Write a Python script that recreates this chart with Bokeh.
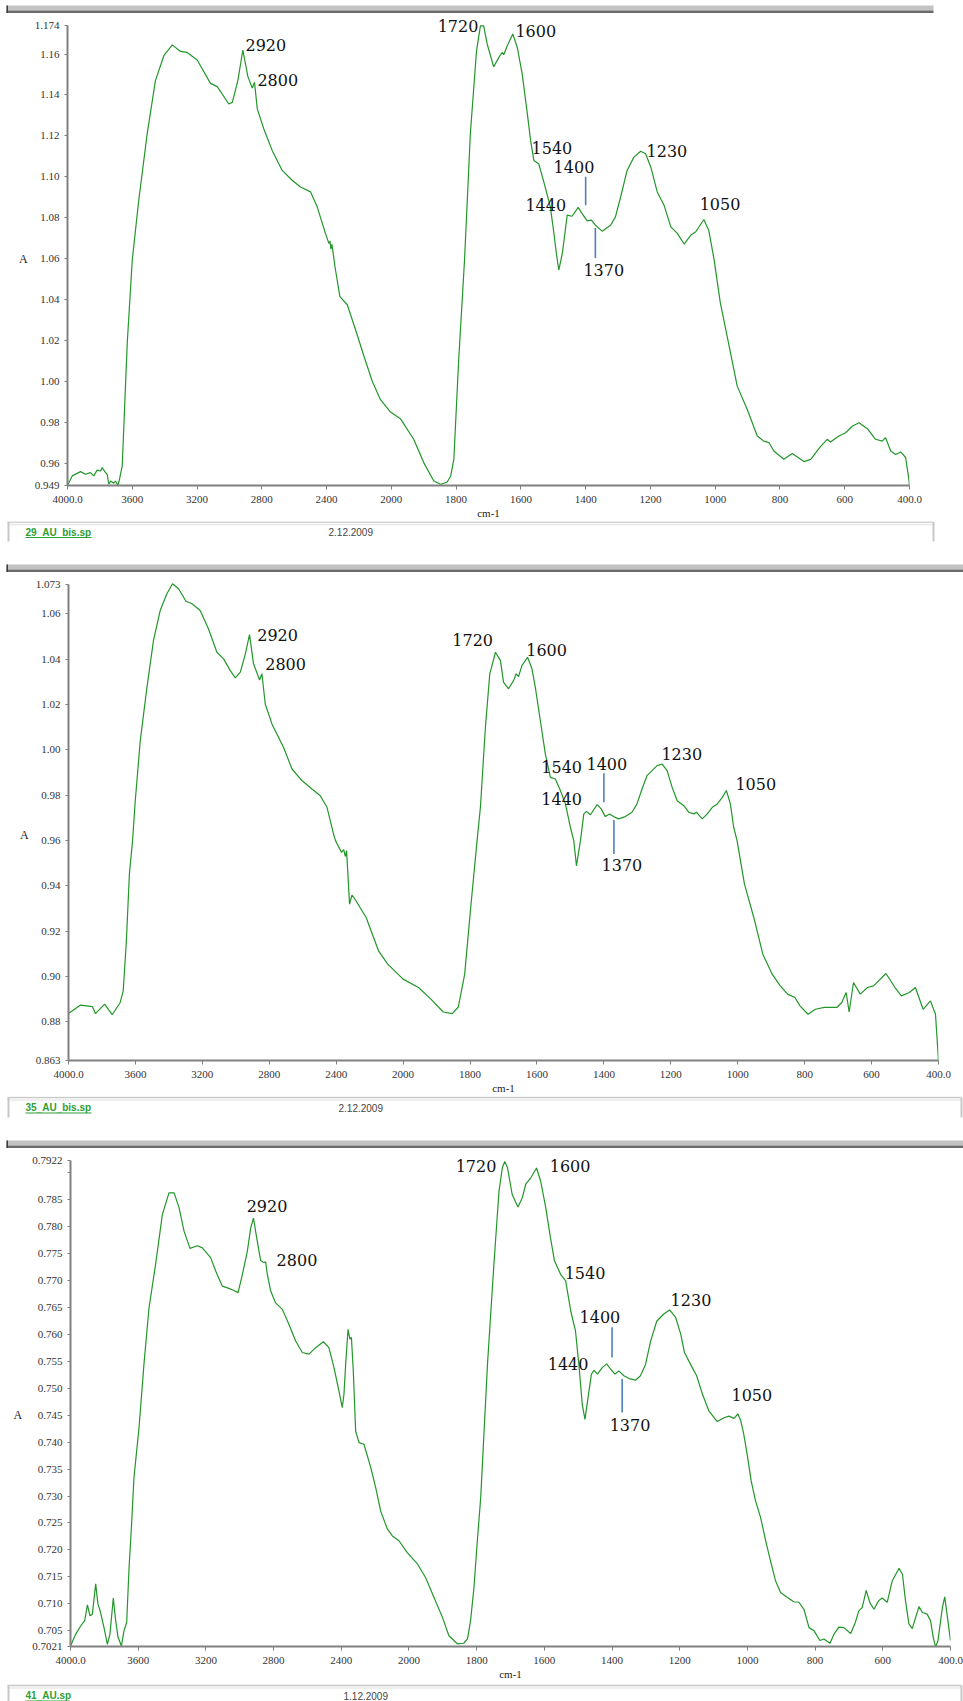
import numpy as np
from bokeh.plotting import figure
from bokeh.layouts import column
from bokeh.models import Range1d, FixedTicker, Label
from bokeh.core.properties import value
from bokeh.embed import file_html
from bokeh.resources import INLINE

# ---------------- spectra: wavenumber (cm-1) / absorbance ----------------
wn_29 = [4000, 3971, 3920, 3889, 3858, 3838, 3817, 3796, 3786, 3765, 3755, 3745, 3734, 3714,
         3704, 3689, 3679, 3662, 3631, 3600, 3560, 3508, 3457, 3405, 3353, 3302, 3261, 3199,
         3117, 3075, 3004, 2982, 2948, 2917, 2886, 2859, 2845, 2828, 2788, 2736, 2674, 2613,
         2561, 2499, 2458, 2407, 2386, 2379, 2373, 2367, 2355, 2348, 2318, 2272, 2221, 2169,
         2118, 2067, 2005, 1972, 1931, 1900, 1869, 1848, 1828, 1817, 1807, 1792, 1774, 1756,
         1737, 1725, 1715, 1704, 1684, 1668, 1658, 1653, 1642, 1625, 1611, 1596, 1580, 1570,
         1560, 1545, 1529, 1509, 1498, 1490, 1483, 1472, 1457, 1442, 1423, 1411, 1395, 1382,
         1370, 1349, 1323, 1308, 1292, 1272, 1251, 1230, 1215, 1199, 1179, 1158, 1137, 1117,
         1096, 1075, 1060, 1035, 1020, 1004, 984, 963, 932, 901, 870, 850, 834, 819, 788, 762,
         726, 705, 675, 654, 644, 618, 597, 577, 556, 530, 505, 484, 474, 458, 443, 427, 412,
         402, 400]
ab_29 = [0.9490, 0.9537, 0.9558, 0.9545, 0.9553, 0.9537, 0.9565, 0.9561, 0.9578, 0.9553,
         0.9545, 0.9496, 0.9512, 0.9501, 0.9512, 0.9490, 0.9520, 0.9586, 1.0187, 1.0593,
         1.0885, 1.1210, 1.1470, 1.1592, 1.1645, 1.1613, 1.1608, 1.1571, 1.1457, 1.1441,
         1.1356, 1.1364, 1.1470, 1.1620, 1.1490, 1.1434, 1.1462, 1.1332, 1.1235, 1.1129,
         1.1031, 1.0983, 1.0950, 1.0926, 1.0853, 1.0723, 1.0674, 1.0685, 1.0646, 1.0670,
         1.0601, 1.0560, 1.0414, 1.0374, 1.0252, 1.0122, 1.0000, 0.9910, 0.9849, 0.9817,
         0.9716, 0.9602, 0.9512, 0.9496, 0.9506, 0.9535, 0.9618, 1.0106, 1.0593, 1.1212,
         1.1616, 1.1738, 1.1738, 1.1649, 1.1538, 1.1584, 1.1608, 1.1597, 1.1641, 1.1698,
         1.1632, 1.1503, 1.1308, 1.1178, 1.1080, 1.1064, 1.0974, 1.0853, 1.0723, 1.0620,
         1.0544, 1.0625, 1.0812, 1.0807, 1.0850, 1.0820, 1.0784, 1.0788, 1.0763, 1.0734,
         1.0763, 1.0804, 1.0901, 1.1031, 1.1096, 1.1125, 1.1113, 1.1048, 1.0926, 1.0861,
         1.0755, 1.0723, 1.0671, 1.0715, 1.0731, 1.0791, 1.0739, 1.0601, 1.0382, 1.0219,
         0.9976, 0.9862, 0.9732, 0.9707, 0.9700, 0.9659, 0.9618, 0.9647, 0.9607, 0.9618,
         0.9680, 0.9716, 0.9703, 0.9732, 0.9748, 0.9780, 0.9797, 0.9768, 0.9716, 0.9707,
         0.9724, 0.9659, 0.9642, 0.9654, 0.9627, 0.9520, 0.9490]

wn_35 = [4000, 3930, 3857, 3839, 3784, 3739, 3691, 3673, 3654, 3636, 3617, 3601, 3571, 3531,
         3492, 3452, 3412, 3378, 3342, 3298, 3262, 3213, 3163, 3113, 3073, 3033, 3003, 2973,
         2943, 2918, 2894, 2858, 2844, 2824, 2784, 2715, 2664, 2605, 2545, 2495, 2455, 2416,
         2404, 2368, 2355, 2345, 2338, 2320, 2306, 2294, 2221, 2147, 2092, 2000, 1954, 1917,
         1880, 1853, 1835, 1816, 1798, 1779, 1769, 1754, 1741, 1724, 1709, 1700, 1685, 1670,
         1662, 1655, 1645, 1628, 1615, 1605, 1590, 1575, 1560, 1545, 1530, 1515, 1500, 1490,
         1482, 1470, 1460, 1452, 1440, 1431, 1420, 1408, 1396, 1383, 1371, 1356, 1336, 1316,
         1301, 1286, 1271, 1256, 1241, 1226, 1211, 1196, 1181, 1161, 1146, 1131, 1123, 1106,
         1091, 1076, 1061, 1046, 1034, 1022, 1012, 1002, 980, 952, 925, 897, 873, 851, 829,
         814, 790, 768, 741, 704, 689, 676, 667, 654, 634, 612, 594, 557, 530, 511, 487, 469,
         446, 424, 409, 400]
ab_35 = [0.8837, 0.8874, 0.8868, 0.8837, 0.8879, 0.8832, 0.8886, 0.8937, 0.9158, 0.9453,
         0.9600, 0.9776, 1.0041, 1.0277, 1.0483, 1.0615, 1.0689, 1.0733, 1.0711, 1.0656,
         1.0645, 1.0615, 1.0534, 1.0431, 1.0402, 1.0350, 1.0318, 1.0343, 1.0424, 1.0509,
         1.0380, 1.0309, 1.0336, 1.0203, 1.0115, 1.0012, 0.9916, 0.9865, 0.9828, 0.9798,
         0.9747, 0.9630, 0.9600, 0.9548, 0.9560, 0.9530, 0.9556, 0.9320, 0.9360, 0.9349,
         0.9261, 0.9114, 0.9055, 0.8989, 0.8952, 0.8901, 0.8844, 0.8837, 0.8866, 0.9011,
         0.9305, 0.9600, 0.9747, 1.0100, 1.0336, 1.0431, 1.0394, 1.0299, 1.0270, 1.0306,
         1.0336, 1.0324, 1.0372, 1.0409, 1.0358, 1.0277, 1.0130, 0.9983, 0.9879, 0.9872,
         0.9821, 0.9762, 0.9658, 0.9600, 0.9489, 0.9600, 0.9718, 0.9729, 0.9714, 0.9735,
         0.9759, 0.9740, 0.9706, 0.9718, 0.9706, 0.9696, 0.9706, 0.9725, 0.9762, 0.9828,
         0.9887, 0.9909, 0.9931, 0.9938, 0.9909, 0.9835, 0.9776, 0.9754, 0.9725, 0.9718,
         0.9725, 0.9696, 0.9718, 0.9747, 0.9762, 0.9791, 0.9821, 0.9762, 0.9658, 0.9600,
         0.9409, 0.9261, 0.9099, 0.9011, 0.8959, 0.8923, 0.8908, 0.8871, 0.8834, 0.8856,
         0.8864, 0.8864, 0.8886, 0.8930, 0.8844, 0.8974, 0.8923, 0.8952, 0.8959, 0.9014,
         0.8952, 0.8915, 0.8930, 0.8952, 0.8856, 0.8893, 0.8834, 0.8630]

wn_41 = [4000, 3969, 3940, 3916, 3900, 3885, 3871, 3851, 3838, 3822, 3802, 3782, 3767, 3747,
         3733, 3719, 3699, 3684, 3668, 3654, 3640, 3625, 3595, 3566, 3536, 3497, 3457, 3418,
         3388, 3359, 3329, 3294, 3250, 3221, 3172, 3142, 3103, 3064, 3034, 3010, 2984, 2955,
         2935, 2919, 2900, 2876, 2857, 2847, 2837, 2817, 2788, 2748, 2709, 2669, 2630, 2591,
         2551, 2506, 2473, 2443, 2414, 2394, 2384, 2374, 2360, 2349, 2340, 2329, 2315, 2295,
         2266, 2226, 2197, 2167, 2128, 2098, 2059, 2010, 1975, 1951, 1926, 1901, 1882, 1857,
         1838, 1827, 1818, 1808, 1798, 1788, 1768, 1749, 1734, 1724, 1717, 1709, 1695, 1678,
         1665, 1655, 1640, 1623, 1611, 1596, 1582, 1570, 1552, 1537, 1522, 1508, 1498, 1488,
         1480, 1471, 1461, 1453, 1443, 1429, 1416, 1404, 1391, 1380, 1365, 1347, 1330, 1316,
         1301, 1286, 1268, 1248, 1230, 1212, 1197, 1186, 1168, 1150, 1133, 1114, 1089, 1069,
         1055, 1040, 1028, 1020, 1011, 1001, 989, 976, 961, 946, 932, 917, 902, 882, 863, 848,
         833, 818, 803, 786, 774, 756, 744, 730, 715, 695, 681, 671, 661, 649, 638, 626, 612,
         602, 587, 572, 552, 542, 533, 523, 513, 503, 493, 483, 469, 459, 451, 444, 437, 424,
         417, 409, 400]
ab_41 = [0.7022, 0.7044, 0.7059, 0.7069, 0.7098, 0.7078, 0.7081, 0.7137, 0.7100, 0.7084,
         0.7056, 0.7025, 0.7044, 0.7111, 0.7069, 0.7038, 0.7022, 0.7050, 0.7066, 0.7167,
         0.7242, 0.7334, 0.7427, 0.7544, 0.7649, 0.7730, 0.7822, 0.7862, 0.7862, 0.7835,
         0.7791, 0.7759, 0.7764, 0.7760, 0.7742, 0.7717, 0.7689, 0.7685, 0.7681, 0.7677,
         0.7711, 0.7754, 0.7797, 0.7815, 0.7779, 0.7736, 0.7733, 0.7734, 0.7711, 0.7680,
         0.7658, 0.7646, 0.7618, 0.7587, 0.7566, 0.7563, 0.7575, 0.7586, 0.7575, 0.7538,
         0.7495, 0.7464, 0.7489, 0.7544, 0.7609, 0.7591, 0.7594, 0.7532, 0.7420, 0.7399,
         0.7396, 0.7353, 0.7316, 0.7272, 0.7239, 0.7226, 0.7217, 0.7195, 0.7174, 0.7149,
         0.7112, 0.7075, 0.7041, 0.7026, 0.7027, 0.7035, 0.7069, 0.7130, 0.7217, 0.7297,
         0.7544, 0.7730, 0.7865, 0.7909, 0.7920, 0.7909, 0.7859, 0.7836, 0.7853, 0.7878,
         0.7890, 0.7908, 0.7884, 0.7835, 0.7779, 0.7736, 0.7711, 0.7699, 0.7643, 0.7606,
         0.7544, 0.7470, 0.7442, 0.7482, 0.7526, 0.7533, 0.7526, 0.7538, 0.7545, 0.7535,
         0.7526, 0.7532, 0.7523, 0.7517, 0.7515, 0.7523, 0.7544, 0.7587, 0.7624, 0.7637,
         0.7645, 0.7631, 0.7600, 0.7566, 0.7544, 0.7523, 0.7489, 0.7458, 0.7438, 0.7445,
         0.7448, 0.7444, 0.7452, 0.7440, 0.7415, 0.7378, 0.7328, 0.7291, 0.7260, 0.7217,
         0.7180, 0.7143, 0.7121, 0.7112, 0.7104, 0.7103, 0.7090, 0.7056, 0.7050, 0.7032,
         0.7035, 0.7027, 0.7044, 0.7057, 0.7056, 0.7045, 0.7066, 0.7087, 0.7093, 0.7125,
         0.7102, 0.7090, 0.7106, 0.7111, 0.7103, 0.7143, 0.7166, 0.7155, 0.7106, 0.7063,
         0.7054, 0.7075, 0.7095, 0.7084, 0.7081, 0.7069, 0.7038, 0.7020, 0.7032, 0.7093,
         0.7113, 0.7075, 0.7032]

# ---------------- axis ticks ----------------
X_TICKS = [4000, 3600, 3200, 2800, 2400, 2000, 1800, 1600, 1400, 1200, 1000, 800, 600, 400]
X_TICK_LABELS = ["4000.0", "3600", "3200", "2800", "2400", "2000", "1800", "1600",
                 "1400", "1200", "1000", "800", "600", "400.0"]

Y_TICKS_29 = [1.174, 1.16, 1.14, 1.12, 1.10, 1.08, 1.06, 1.04, 1.02, 1.00, 0.98, 0.96, 0.949]
Y_LABELS_29 = ["1.174", "1.16", "1.14", "1.12", "1.10", "1.08", "1.06", "1.04", "1.02",
               "1.00", "0.98", "0.96", "0.949"]
Y_TICKS_35 = [1.073, 1.06, 1.04, 1.02, 1.00, 0.98, 0.96, 0.94, 0.92, 0.90, 0.88, 0.863]
Y_LABELS_35 = ["1.073", "1.06", "1.04", "1.02", "1.00", "0.98", "0.96", "0.94", "0.92",
               "0.90", "0.88", "0.863"]
Y_TICKS_41 = [0.7922, 0.790, 0.785, 0.780, 0.775, 0.770, 0.765, 0.760, 0.755, 0.750, 0.745,
              0.740, 0.735, 0.730, 0.725, 0.720, 0.715, 0.710, 0.705, 0.7021]
Y_LABELS_41 = ["0.7922", "", "0.785", "0.780", "0.775", "0.770", "0.765", "0.760", "0.755",
               "0.750", "0.745", "0.740", "0.735", "0.730", "0.725", "0.720", "0.715",
               "0.710", "0.705", "0.7021"]

# band assignments written on each spectrum
PEAK_TEXT = ["2920", "2800", "1720", "1600", "1540", "1400", "1440", "1230", "1050", "1370"]
LEADER_TEXT = ["1400", "1370"]

# placement of the band labels (wavenumber, absorbance of the label's left/middle point)
PEAK_POS_29 = [(2901, 1.1643), (2827, 1.1472), (1857, 1.1736), (1617, 1.1714), (1567, 1.1143),
               (1499, 1.1048), (1586, 1.0863), (1212, 1.1126), (1048, 1.0866), (1407, 1.0542)]
PEAK_POS_35 = [(2872, 1.0507), (2824, 1.0379), (1853, 1.0483), (1632, 1.0441), (1587, 0.9926),
               (1452, 0.9937), (1587, 0.9783), (1228, 0.9982), (1007, 0.9849), (1407, 0.9492)]
PEAK_POS_41 = [(2959, 0.7838), (2782, 0.7738), (1862, 0.7911), (1584, 0.7911), (1540, 0.7713),
               (1496, 0.7632), (1590, 0.7544), (1227, 0.7664), (1047, 0.7487), (1407, 0.7432)]
# vertical extent of the two leader ticks
LEADER_SPAN_29 = [(1.1000, 1.0861), (1.0749, 1.0603)]
LEADER_SPAN_35 = [(0.9897, 0.9769), (0.9691, 0.9541)]
LEADER_SPAN_41 = [(0.7613, 0.7557), (0.7517, 0.7455)]

GREEN = "#23962a"
AXIS_GREY = "#808080"
SERIF = "Liberation Serif"
PEAK_FONT = "DejaVu Serif"


def to_axis(w):
    """Instrument abscissa: 400 cm-1 per division above 2000, 200 cm-1 per division below."""
    w = np.asarray(w, dtype=float)
    return np.where(w >= 2000, (4000.0 - w) / 400.0, 5.0 + (2000.0 - w) / 200.0)


def no_align(p):
    # keep each plot's own borders instead of lining frames up across the column
    if "frame_align" in p.properties():
        p.frame_align = False
    return p


def spectrum(wn, ab, y_ticks, y_labels, height, borders, pad_top, peak_pos, leader_span,
             a_standoff, a_drop):
    left, right, bottom = borders
    y_bot, y_top = min(y_ticks), max(y_ticks)
    frame_h = height - bottom
    y_end = y_top + pad_top * (y_top - y_bot) / (frame_h - pad_top)
    p = figure(width=963, height=height, output_backend="svg", toolbar_location=None,
               x_range=Range1d(0, 13), y_range=Range1d(y_bot, y_end),
               min_border_left=left, min_border_right=right,
               min_border_top=0, min_border_bottom=bottom,
               outline_line_color=None, background_fill_color="white")
    no_align(p)
    p.grid.visible = False

    xt = [float(v) for v in to_axis(X_TICKS)]
    p.xaxis.ticker = FixedTicker(ticks=xt, minor_ticks=[])
    p.xaxis.major_label_overrides = {t: s for t, s in zip(xt, X_TICK_LABELS)}
    p.yaxis.ticker = FixedTicker(ticks=list(y_ticks), minor_ticks=[])
    p.yaxis.major_label_overrides = {t: s for t, s in zip(y_ticks, y_labels)}
    p.yaxis.bounds = (y_bot, y_top)

    for ax in (p.xaxis, p.yaxis):
        ax.axis_line_color = AXIS_GREY
        ax.axis_line_width = 2
        ax.major_tick_line_color = AXIS_GREY
        ax.major_tick_in = 0
        ax.minor_tick_line_color = None
        ax.major_label_text_font = SERIF
        ax.major_label_text_font_size = "11px"
        ax.major_label_text_color = "#333333"
        ax.axis_label_text_font = SERIF
        ax.axis_label_text_font_style = "normal"
        ax.axis_label_text_color = "#222222"
    p.xaxis.major_tick_out = 4
    p.xaxis.major_label_standoff = 6
    p.xaxis.axis_label = "cm-1"
    p.xaxis.axis_label_text_font_size = "11px"
    p.xaxis.axis_label_standoff = 1
    p.yaxis.major_tick_out = 3
    p.yaxis.major_label_standoff = 5
    # leading blank lines drop the absorbance symbol a little below the axis middle
    p.yaxis.axis_label = "\n" * a_drop + "A"
    p.yaxis.axis_label_text_font_size = "12px"
    p.yaxis.axis_label_standoff = a_standoff
    if "axis_label_orientation" in p.yaxis[0].properties():
        p.yaxis.axis_label_orientation = "horizontal"

    p.line(to_axis(wn), ab, line_color=GREEN, line_width=1.2)

    # leader ticks under 1400 and 1370
    lx = to_axis([float(t) for t in LEADER_TEXT])
    p.segment(x0=lx, x1=lx, y0=[s[0] for s in leader_span], y1=[s[1] for s in leader_span],
              line_color="#4f81bd", line_width=1.6)

    for txt, (w, a) in zip(PEAK_TEXT, peak_pos):
        p.add_layout(Label(x=float(to_axis(w)), y=a, text=txt, text_font=PEAK_FONT,
                           text_font_size="16px", text_color="#111111",
                           text_align="left", text_baseline="middle"))
    return p


def strip(height, footer=None, bar=None):
    """Window chrome between the spectra: file footer box and the grey title bar."""
    p = figure(width=963, height=height, output_backend="svg", toolbar_location=None,
               x_range=Range1d(0, 963), y_range=Range1d(height, 0),
               x_axis_type=None, y_axis_type=None, min_border=0,
               outline_line_color=None, background_fill_color="white")
    no_align(p)
    p.grid.visible = False
    if footer is not None:
        name, date, y_top, y_bot, x_right, date_x = footer
        p.segment(x0=[7, 7], x1=[x_right, x_right], y0=[y_top, y_top + 2.5],
                  y1=[y_top, y_top + 2.5], line_color=["#c8c8c8", "#e8e8e8"], line_width=1.5)
        p.segment(x0=[8, x_right], x1=[8, x_right], y0=[y_top, y_top],
                  y1=[y_bot, y_bot], line_color="#c8c8c8", line_width=2)
        ty = y_top + 10
        p.text(x=[25], y=[ty], text=[name], text_font=value("Liberation Sans"),
               text_font_size="10px", text_font_style="bold", text_color="#2f9e34",
               text_baseline="middle")
        p.segment(x0=[25], x1=[25 + 5.5 * len(name)], y0=[ty + 5.5], y1=[ty + 5.5],
                  line_color="#2f9e34", line_width=1)
        p.text(x=[date_x], y=[ty], text=[date], text_font=value("Liberation Sans"),
               text_font_size="10px", text_color="#444444", text_baseline="middle")
    if bar is not None:
        y0, x_right = bar
        p.quad(left=6, right=x_right, top=y0, bottom=y0 + 5, fill_color="#c3c3c3",
               line_color=None)
        p.quad(left=6, right=x_right, top=y0 + 5, bottom=y0 + 7.5, fill_color="#6a6a6a",
               line_color=None)
        p.quad(left=6, right=7.5, top=y0, bottom=y0 + 7.5, fill_color="#3a3a3a",
               line_color=None)
    return p


s0 = strip(15, bar=(5, 933))
m1 = spectrum(wn_29, ab_29, Y_TICKS_29, Y_LABELS_29, 506, (67, 54, 35), 10,
              PEAK_POS_29, LEADER_SPAN_29, 4, 1)
s1 = strip(55, footer=("29_AU_bis.sp", "2.12.2009", 0.5, 20, 933, 328), bar=(43, 963))
m2 = spectrum(wn_35, ab_35, Y_TICKS_35, Y_LABELS_35, 520, (68, 25, 36), 8,
              PEAK_POS_35, LEADER_SPAN_35, 4, 2)
s2 = strip(54, footer=("35_AU_bis.sp", "2.12.2009", 1, 21, 961, 338), bar=(44, 963))
m3 = spectrum(wn_41, ab_41, Y_TICKS_41, Y_LABELS_41, 532, (70, 13, 36), 10,
              PEAK_POS_41, LEADER_SPAN_41, 7, 2)
s3 = strip(19, footer=("41_AU.sp", "1.12.2009", 3, 19, 961, 343))

page = column(s0, m1, s1, m2, s2, m3, s3, spacing=0)
open("out.html", "w").write(file_html(page, INLINE))
